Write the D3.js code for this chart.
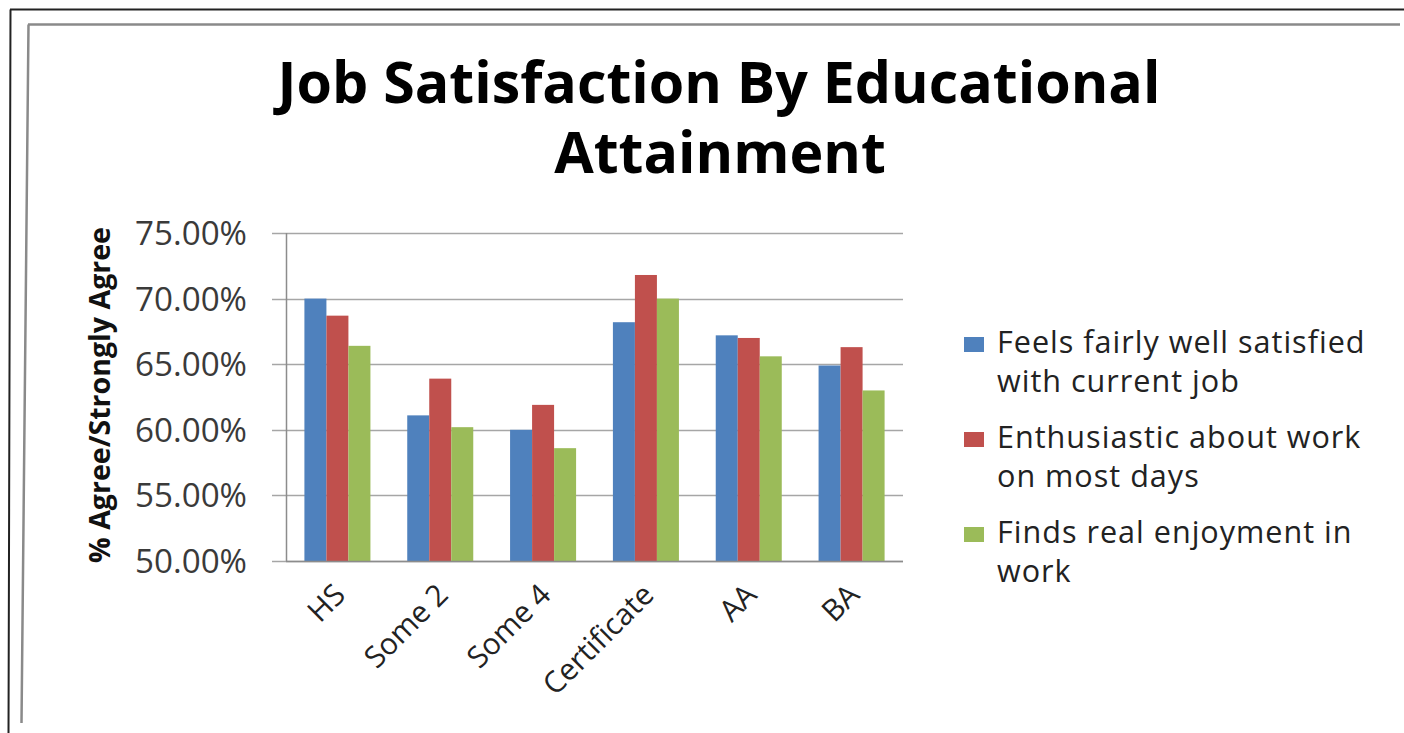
<!DOCTYPE html>
<html>
<head>
<meta charset="utf-8">
<script src="https://cdn.jsdelivr.net/npm/d3@7"></script>
<style>
  html, body { margin: 0; padding: 0; background: #fff; }
  svg { display: block; }
  text { font-family: "Open Sans", "DejaVu Sans", sans-serif; }
</style>
</head>
<body>
<svg id="chart" width="1404" height="733"></svg>
<script>
// Education levels along the x axis
const categories = ["HS", "Some 2", "Some 4", "Certificate", "AA", "BA"];

// Survey items (legend order)
const seriesNames = [
  "Feels fairly well satisfied with current job",
  "Enthusiastic about work on most days",
  "Finds real enjoyment in work"
];
const legendLines = [
  ["Feels fairly well satisfied", "with current job"],
  ["Enthusiastic about work", "on most days"],
  ["Finds real enjoyment in", "work"]
];

// Share answering agree / strongly agree, per category
const satisfied    = [0.700, 0.611, 0.600, 0.682, 0.672, 0.649];
const enthusiastic = [0.687, 0.639, 0.619, 0.718, 0.670, 0.663];
const enjoyment    = [0.664, 0.602, 0.586, 0.700, 0.656, 0.630];

const yTicks = [0.50, 0.55, 0.60, 0.65, 0.70, 0.75];
const colors = ["#4F81BD", "#C0504D", "#9BBB59"];

const titleLines = ["Job Satisfaction By Educational", "Attainment"];
const yAxisTitle = "% Agree/Strongly Agree";

const seriesValues = [satisfied, enthusiastic, enjoyment];

const svg = d3.select("#chart");

// Scale a text element's font size so it spans the given width
function fitWidth(sel, target) {
  const node = sel.node();
  const fs = parseFloat(sel.attr("font-size"));
  const w = node.getComputedTextLength();
  sel.attr("font-size", (fs * target / w).toFixed(2));
  return fs * target / w;
}

// Outer frame lines
svg.append("path")
  .attr("d", "M10,9.5 L1404,9.5 M10.5,9.5 L8.5,733")
  .attr("stroke", "#222").attr("stroke-width", 2).attr("fill", "none");
svg.append("path")
  .attr("d", "M28,24.5 L1400,24.5 M28.5,24.5 L21.5,723")
  .attr("stroke", "#8a8a8a").attr("stroke-width", 2.5).attr("fill", "none");

// Plot geometry
const plot = { left: 286, right: 903, top: 233, bottom: 561 };

const y = d3.scaleLinear()
  .domain([0.50, 0.75])
  .range([plot.bottom, plot.top]);

const x = d3.scaleBand()
  .domain(categories)
  .range([plot.left, plot.right])
  .paddingInner(0.358)
  .paddingOuter(0.179);

const xs = d3.scaleBand()
  .domain(d3.range(seriesNames.length))
  .range([0, x.bandwidth()])
  .padding(0);

// Gridlines
svg.append("g")
  .selectAll("line")
  .data(yTicks)
  .join("line")
  .attr("x1", plot.left - 14)
  .attr("x2", plot.right)
  .attr("y1", d => Math.round(y(d)) + 0.5)
  .attr("y2", d => Math.round(y(d)) + 0.5)
  .attr("stroke", "#a6a6a6")
  .attr("stroke-width", 1.5);

// Bars
const groups = svg.append("g")
  .selectAll("g")
  .data(categories)
  .join("g")
  .attr("transform", d => `translate(${x(d)},0)`);

groups.selectAll("rect")
  .data((d, i) => seriesValues.map((vals, s) => ({ s, v: vals[i] })))
  .join("rect")
  .attr("x", d => xs(d.s))
  .attr("width", xs.bandwidth())
  .attr("y", d => y(d.v))
  .attr("height", d => y(0.50) - y(d.v))
  .attr("fill", d => colors[d.s]);

// Value axis line
svg.append("line")
  .attr("x1", plot.left + 0.5).attr("x2", plot.left + 0.5)
  .attr("y1", plot.top).attr("y2", plot.bottom)
  .attr("stroke", "#8c8c8c").attr("stroke-width", 1.5);

// Category axis line
svg.append("line")
  .attr("x1", plot.left).attr("x2", plot.right)
  .attr("y1", plot.bottom + 0.5).attr("y2", plot.bottom + 0.5)
  .attr("stroke", "#8c8c8c").attr("stroke-width", 1.5);

// Y tick labels
const fmt = d3.format(".2%");
const yLabels = svg.append("g")
  .selectAll("text")
  .data(yTicks)
  .join("text")
  .attr("x", 247)
  .attr("y", d => y(d))
  .attr("dy", "0.36em")
  .attr("text-anchor", "end")
  .attr("font-size", 24)
  .attr("fill", "#3a3a3a")
  .text(d => fmt(d));
const tickFs = fitWidth(yLabels.filter((d, i) => i === yTicks.length - 1), 112);
yLabels.attr("font-size", tickFs.toFixed(2));

// X tick labels, rotated
svg.append("g")
  .selectAll("text")
  .data(categories)
  .join("text")
  .attr("transform", d => `translate(${x(d) + x.bandwidth() / 2 + 2},${plot.bottom + 28}) rotate(-45)`)
  .attr("text-anchor", "end")
  .attr("dy", "0.36em")
  .attr("font-size", (tickFs * 0.9).toFixed(2))
  .attr("fill", "#222")
  .text(d => d);

// Y axis title
const yt = svg.append("text")
  .attr("transform", "translate(100,395) rotate(-90)")
  .attr("text-anchor", "middle")
  .attr("dy", "0.36em")
  .attr("font-size", 24)
  .attr("font-weight", 700)
  .attr("fill", "#111")
  .text(yAxisTitle);
fitWidth(yt, 336);

// Chart title: one text block, one tspan per line
const title = svg.append("text")
  .attr("text-anchor", "middle")
  .attr("font-size", 48)
  .attr("font-weight", 700)
  .attr("fill", "#000");
const titleSpans = title.selectAll("tspan")
  .data(titleLines)
  .join("tspan")
  .attr("x", (d, i) => i === 0 ? 719 : 720)
  .attr("y", (d, i) => 103 + i * 70)
  .text(d => d);
const firstLen = titleSpans.nodes()[0].getComputedTextLength();
title.attr("font-size", (48 * 883 / firstLen).toFixed(2));

// Legend
const legend = svg.append("g");
const entryY = [353, 448, 543];
const lineGap = 39;
legendLines.forEach((lines, i) => {
  legend.append("rect")
    .attr("x", 964).attr("y", entryY[i] - 16)
    .attr("width", 20).attr("height", 15)
    .attr("fill", colors[i]);
  lines.forEach((ln, j) => {
    legend.append("text")
      .attr("class", "legend-text")
      .attr("x", 997)
      .attr("y", entryY[i] + j * lineGap)
      .attr("font-size", 24)
      .attr("letter-spacing", 1)
      .attr("fill", "#222")
      .text(ln);
  });
});
const first = legend.select(".legend-text");
const legFs = fitWidth(first, 376);
legend.selectAll(".legend-text").attr("font-size", legFs.toFixed(2));
</script>
</body>
</html>
